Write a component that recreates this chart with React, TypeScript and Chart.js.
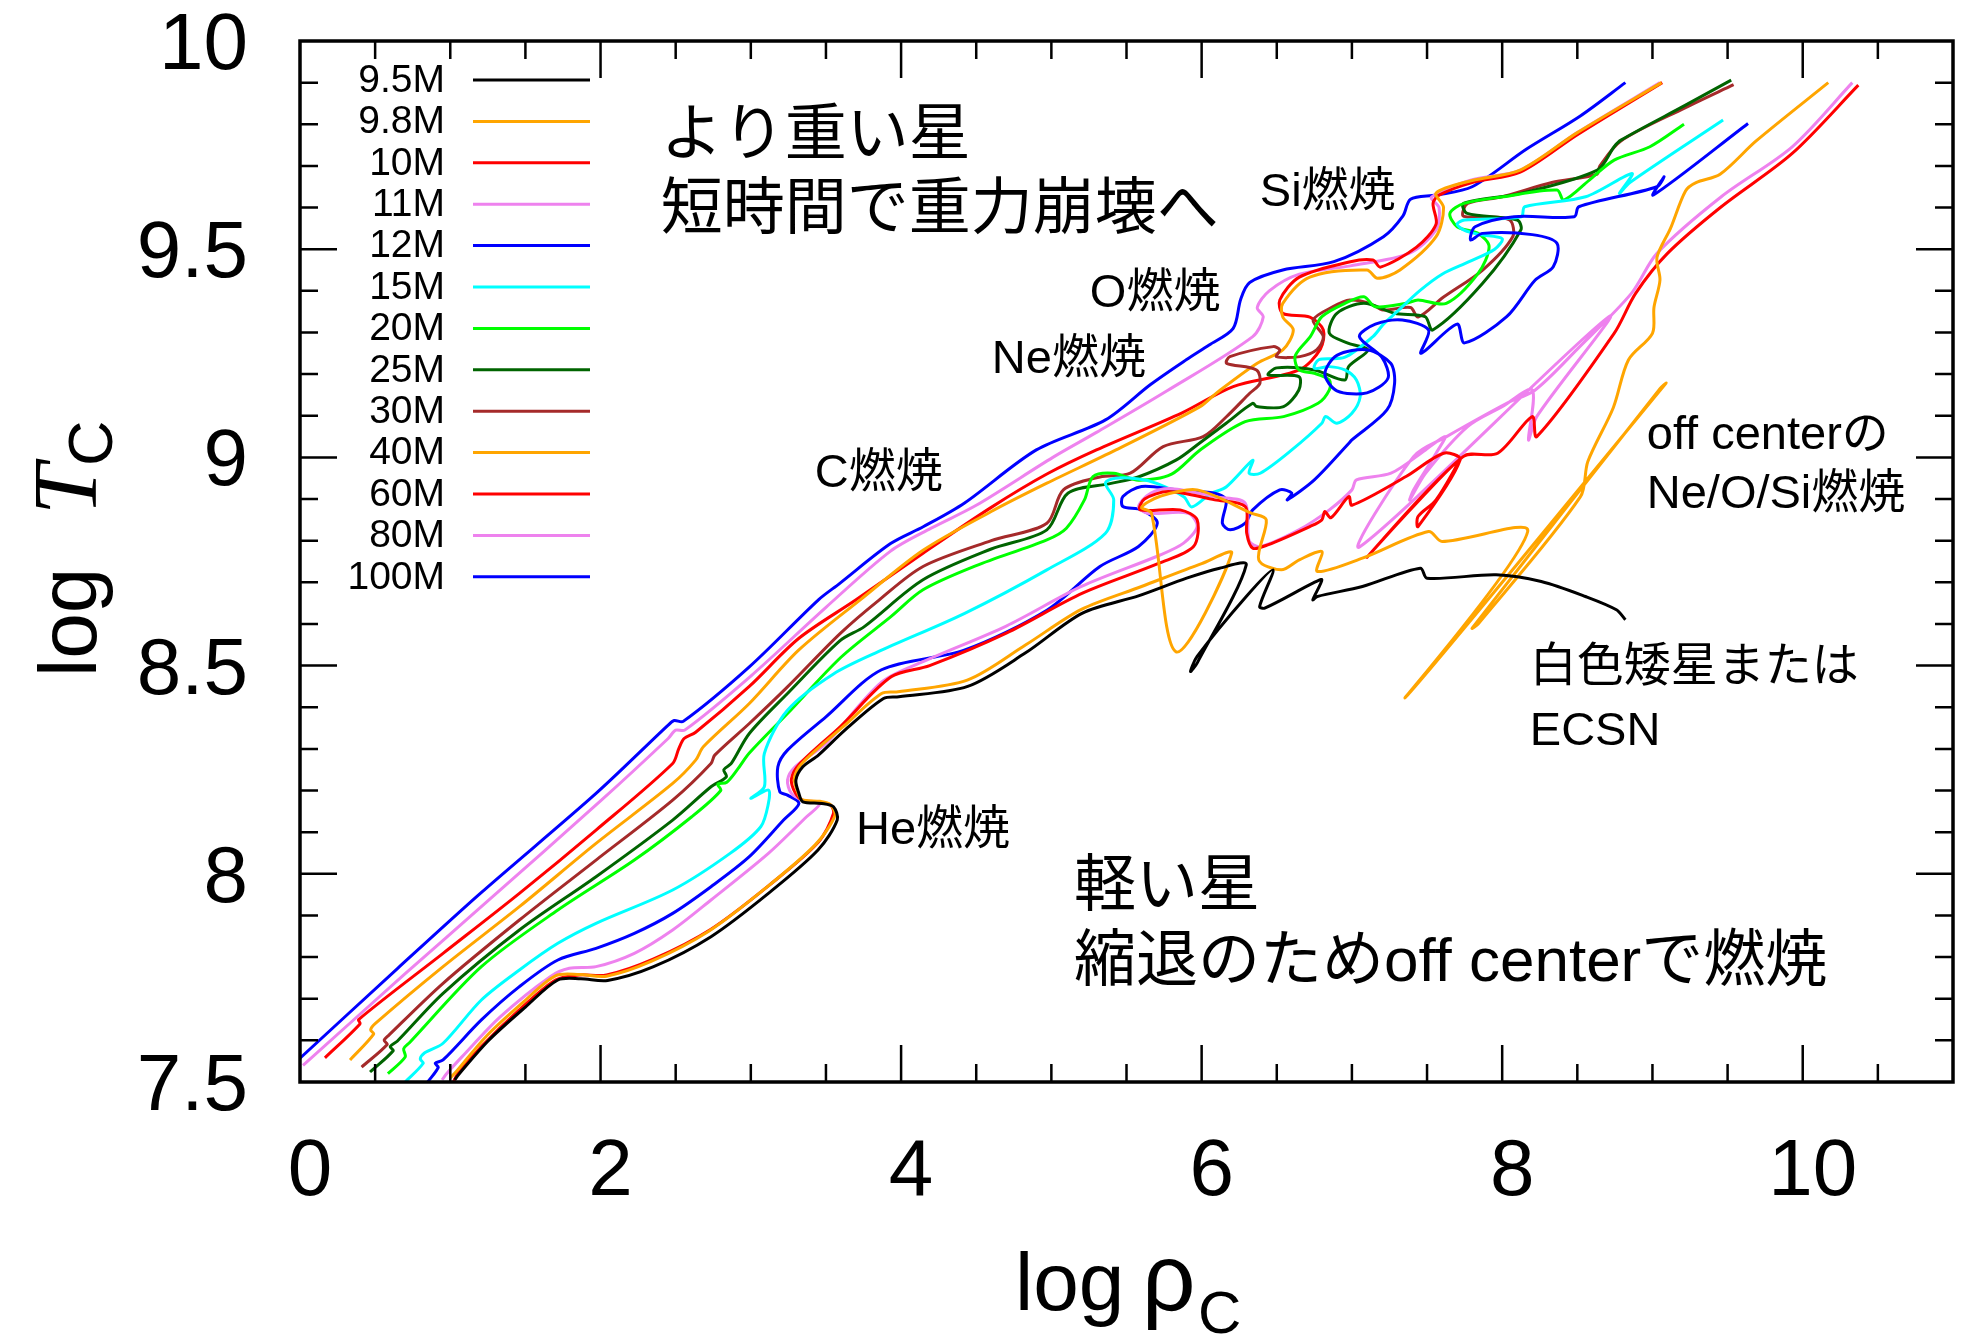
import React, { useEffect, useRef } from "react";
import { Chart, registerables } from "chart.js";

Chart.register(...registerables);

type Pt = [number, number];

// Central density / central temperature tracks (log rho_c, log T_c)
const m9_5: Pt[] = [
  [1.03, 7.505], [1.06, 7.52], [1.258, 7.601], [1.5, 7.68], [1.716, 7.745], [1.869, 7.748], [2.047, 7.744],
  [2.353, 7.777], [2.735, 7.849], [3.117, 7.953], [3.447, 8.057], [3.575, 8.129], [3.55, 8.161], [3.473, 8.169],
  [3.346, 8.173], [3.32, 8.193], [3.3, 8.225], [3.346, 8.257], [3.45, 8.285], [3.626, 8.345], [3.883, 8.421],
  [3.985, 8.425], [4.443, 8.45], [4.826, 8.53], [5.207, 8.626], [5.584, 8.668], [5.9, 8.71], [6.12, 8.734],
  [6.297, 8.742], [5.97, 8.506], [5.926, 8.486], [5.97, 8.522], [6.297, 8.666], [6.475, 8.73], [6.386, 8.642],
  [6.42, 8.638], [6.74, 8.698], [6.8, 8.706], [6.74, 8.658], [6.77, 8.666], [7.07, 8.69], [7.455, 8.734],
  [7.5, 8.71], [7.96, 8.718], [8.26, 8.702], [8.554, 8.666], [8.76, 8.634], [8.82, 8.61],
];

const m9_8: Pt[] = [
  [1.0, 7.51], [1.04, 7.525], [1.24, 7.61], [1.48, 7.69], [1.7, 7.755], [1.86, 7.758], [2.04, 7.754], [2.34, 7.79],
  [2.72, 7.862], [3.1, 7.966], [3.43, 8.07], [3.56, 8.14], [3.53, 8.166], [3.46, 8.174], [3.34, 8.178], [3.31, 8.198],
  [3.29, 8.23], [3.34, 8.265], [3.62, 8.355], [3.87, 8.433], [3.98, 8.437], [4.44, 8.465], [4.83, 8.55], [5.2, 8.635],
  [5.6, 8.69], [6.0, 8.745], [6.2, 8.77], [5.83, 8.533], [5.666, 8.866], [5.6, 8.88], [5.72, 8.906], [5.97, 8.922],
  [6.33, 8.866], [6.43, 8.85], [6.38, 8.754], [6.53, 8.73], [6.65, 8.754], [6.8, 8.774], [6.77, 8.726], [7.07, 8.758],
  [7.51, 8.822], [7.6, 8.798], [8.17, 8.822], [7.36, 8.425], [9.09, 9.178], [9.05, 9.165], [7.8, 8.59], [7.84, 8.6],
  [8.52, 8.905], [8.57, 8.99], [8.74, 9.12], [8.84, 9.234], [9.0, 9.298], [9.01, 9.36], [9.05, 9.426], [9.03, 9.48],
  [9.12, 9.55], [9.22, 9.64], [9.29, 9.66], [9.45, 9.68], [9.69, 9.76], [10.17, 9.9],
];

const m10: Pt[] = [
  [1.02, 7.5], [1.05, 7.52], [1.207, 7.585], [1.45, 7.67], [1.7, 7.745], [1.86, 7.757], [2.04, 7.757], [2.35, 7.795],
  [2.735, 7.867], [3.117, 7.971], [3.447, 8.075], [3.55, 8.145], [3.524, 8.167], [3.346, 8.176], [3.295, 8.195],
  [3.27, 8.227], [3.32, 8.262], [3.6, 8.355], [3.934, 8.473], [4.19, 8.5], [4.7, 8.578], [5.207, 8.674], [5.717, 8.746],
  [5.946, 8.786], [5.97, 8.85], [5.857, 8.874], [5.59, 8.874], [5.62, 8.9], [5.78, 8.918], [6.087, 8.898], [6.29, 8.882],
  [6.3, 8.818], [6.34, 8.782], [6.44, 8.79], [6.72, 8.834], [6.8, 8.85], [6.82, 8.87], [6.86, 8.855], [6.98, 8.906],
  [7.0, 8.885], [7.36, 8.954], [7.61, 9.01], [7.72, 8.994], [7.44, 8.834], [7.44, 8.858], [7.56, 8.898], [7.7, 8.99],
  [7.1, 8.76], [7.74, 9.002], [7.97, 9.01], [8.2, 9.098], [8.23, 9.05], [8.745, 9.298], [8.888, 9.394], [9.1, 9.49],
  [9.458, 9.602], [9.93, 9.73], [10.37, 9.894],
];

const m11: Pt[] = [
  [0.945, 7.505], [0.978, 7.521], [1.079, 7.561], [1.334, 7.657], [1.665, 7.753], [1.792, 7.773], [1.97, 7.777],
  [2.225, 7.809], [2.48, 7.865], [2.735, 7.937], [3.117, 8.049], [3.371, 8.137], [3.46, 8.169], [3.346, 8.177],
  [3.27, 8.193], [3.244, 8.225], [3.295, 8.257], [3.5, 8.313], [3.87, 8.46], [4.15, 8.51], [4.7, 8.595], [5.2, 8.69],
  [5.72, 8.765], [5.88, 8.794], [5.97, 8.834], [5.91, 8.866], [5.64, 8.866], [5.58, 8.882], [5.66, 8.914], [5.8, 8.925],
  [6.1, 8.905], [6.29, 8.89], [6.316, 8.8], [6.39, 8.786], [6.647, 8.826], [6.85, 8.874], [7.0, 8.922], [7.03, 8.946],
  [7.26, 8.962], [7.49, 9.018], [7.62, 9.05], [7.56, 9.01], [7.41, 8.922], [7.385, 8.898], [7.49, 8.962], [7.77, 9.074],
  [8.0, 9.122], [8.2, 9.162], [8.175, 9.042], [8.23, 9.098], [8.71, 9.338], [7.055, 8.786], [7.41, 9.002], [7.63, 9.05],
  [8.03, 9.13], [8.22, 9.162], [8.5, 9.26], [8.86, 9.394], [9.03, 9.49], [9.458, 9.626], [9.93, 9.746], [10.33, 9.9],
];

const m12: Pt[] = [
  [0.85, 7.5], [0.92, 7.535], [0.9, 7.545], [0.952, 7.553], [1.207, 7.649], [1.46, 7.729], [1.716, 7.793], [1.97, 7.821],
  [2.225, 7.857], [2.48, 7.905], [2.735, 7.969], [2.99, 8.041], [3.218, 8.129], [3.32, 8.169], [3.244, 8.189],
  [3.193, 8.197], [3.18, 8.257], [3.244, 8.297], [3.5, 8.377], [3.87, 8.49], [4.42, 8.537], [4.97, 8.633],
  [5.323, 8.738], [5.58, 8.786], [5.705, 8.842], [5.6, 8.874], [5.476, 8.882], [5.476, 8.906], [5.6, 8.93],
  [5.832, 8.922], [6.087, 8.914], [6.163, 8.898], [6.138, 8.842], [6.19, 8.826], [6.29, 8.842], [6.34, 8.874],
  [6.52, 8.922], [6.6, 8.914], [6.57, 8.898], [6.75, 8.946], [6.98, 9.034], [7.0, 9.042], [7.233, 9.114],
  [7.284, 9.178], [7.258, 9.226], [7.106, 9.258], [6.9, 9.245], [6.82, 9.2], [6.9, 9.16], [7.1, 9.155], [7.24, 9.19],
  [7.2, 9.24], [7.05, 9.29], [7.156, 9.32], [7.335, 9.33], [7.51, 9.306], [7.46, 9.25], [7.7, 9.32], [7.75, 9.275],
  [8.03, 9.338], [8.22, 9.426], [8.34, 9.458], [8.365, 9.514], [8.2, 9.535], [7.87, 9.538], [7.79, 9.522],
  [7.82, 9.554], [8.08, 9.578], [8.48, 9.578], [8.51, 9.602], [9.03, 9.65], [9.077, 9.674], [9.006, 9.63],
  [9.636, 9.802],
];

const m15: Pt[] = [
  [0.7, 7.5], [0.82, 7.545], [0.8, 7.555], [0.83, 7.57], [0.952, 7.593], [1.207, 7.697], [1.46, 7.769], [1.716, 7.833],
  [1.97, 7.881], [2.48, 7.961], [2.862, 8.049], [3.066, 8.113], [3.117, 8.169], [3.117, 8.201], [3.0, 8.181],
  [3.09, 8.209], [3.09, 8.289], [3.244, 8.393], [3.55, 8.48], [3.87, 8.537], [4.42, 8.625], [4.97, 8.73],
  [5.36, 8.818], [5.415, 8.898], [5.36, 8.938], [5.425, 8.95], [5.58, 8.948], [5.705, 8.937], [5.883, 8.905],
  [5.934, 8.881], [6.06, 8.913], [6.163, 8.929], [6.34, 8.993], [6.316, 8.962], [6.39, 8.962], [6.6, 9.018],
  [6.8, 9.082], [6.825, 9.098], [6.9, 9.082], [7.0, 9.106], [7.055, 9.146], [7.03, 9.186], [6.953, 9.21],
  [6.85, 9.218], [6.75, 9.214], [6.78, 9.235], [6.95, 9.24], [7.14, 9.29], [7.21, 9.32], [7.3, 9.35], [7.45, 9.4],
  [7.6, 9.44], [7.78, 9.47], [7.95, 9.5], [8.0, 9.525], [7.85, 9.535], [7.75, 9.545], [7.7, 9.56], [7.75, 9.57],
  [8.127, 9.578], [8.15, 9.602], [8.555, 9.626], [8.864, 9.682], [8.78, 9.634], [8.85, 9.66], [9.47, 9.81],
];

const m20: Pt[] = [
  [0.585, 7.52], [0.7, 7.56], [0.69, 7.58], [0.73, 7.595], [1.207, 7.777], [1.716, 7.913], [2.225, 8.033],
  [2.607, 8.137], [2.8, 8.2], [2.78, 8.215], [2.84, 8.22], [2.91, 8.25], [2.99, 8.29], [3.244, 8.385], [3.6, 8.52],
  [3.93, 8.617], [4.146, 8.682], [4.5, 8.74], [4.97, 8.802], [5.1, 8.83], [5.22, 8.898], [5.277, 8.954], [5.415, 8.962],
  [5.58, 8.945], [5.8, 8.96], [5.99, 9.018], [6.29, 9.086], [6.545, 9.098], [6.775, 9.13], [6.85, 9.162], [6.85, 9.186],
  [6.75, 9.202], [6.647, 9.21], [6.62, 9.24], [6.647, 9.258], [6.723, 9.29], [6.8, 9.338], [6.953, 9.37], [7.08, 9.386],
  [7.156, 9.362], [7.36, 9.37], [7.44, 9.378], [7.628, 9.37], [7.84, 9.442], [7.913, 9.506], [7.84, 9.538],
  [7.7, 9.554], [7.652, 9.586], [7.747, 9.61], [8.008, 9.626], [8.365, 9.642], [8.41, 9.618], [8.58, 9.666],
  [8.745, 9.714], [8.983, 9.746], [9.21, 9.8],
];

const m25: Pt[] = [
  [0.466, 7.524], [0.62, 7.575], [0.6, 7.585], [0.647, 7.598], [0.952, 7.713], [1.46, 7.865], [1.97, 7.993],
  [2.48, 8.129], [2.735, 8.209], [2.837, 8.233], [2.82, 8.25], [2.87, 8.265], [2.99, 8.337], [3.244, 8.433],
  [3.594, 8.56], [3.753, 8.593], [4.146, 8.706], [4.6, 8.78], [4.97, 8.826], [5.11, 8.914], [5.39, 8.937],
  [5.578, 8.953], [5.832, 8.994], [5.985, 9.034], [6.163, 9.082], [6.34, 9.13], [6.367, 9.122], [6.545, 9.122],
  [6.647, 9.162], [6.647, 9.194], [6.443, 9.198], [6.5, 9.215], [6.75, 9.21], [6.953, 9.186], [6.978, 9.218],
  [7.106, 9.258], [6.978, 9.274], [6.85, 9.298], [6.9, 9.346], [7.08, 9.37], [7.284, 9.346], [7.487, 9.338],
  [7.538, 9.306], [7.87, 9.418], [8.124, 9.546], [8.1, 9.57], [7.767, 9.586], [7.742, 9.61], [8.124, 9.634],
  [8.633, 9.69], [8.745, 9.746], [8.79, 9.762], [9.22, 9.846], [9.524, 9.906],
];

const m30: Pt[] = [
  [0.41, 7.536], [0.58, 7.59], [0.56, 7.6], [0.59, 7.612], [0.952, 7.737], [1.46, 7.889], [1.97, 8.033], [2.48, 8.177],
  [2.735, 8.265], [2.76, 8.285], [2.99, 8.361], [3.244, 8.449], [3.594, 8.577], [3.855, 8.658], [4.146, 8.738],
  [4.6, 8.8], [4.97, 8.842], [5.08, 8.922], [5.323, 8.953], [5.525, 8.962], [5.744, 9.026], [6.01, 9.05],
  [6.163, 9.097], [6.32, 9.154], [6.388, 9.178], [6.365, 9.21], [6.166, 9.226], [6.188, 9.242], [6.476, 9.266],
  [6.52, 9.258], [6.498, 9.242], [6.654, 9.242], [6.765, 9.258], [6.81, 9.29], [6.742, 9.33], [6.875, 9.362],
  [6.986, 9.378], [7.12, 9.37], [7.208, 9.354], [7.39, 9.36], [7.44, 9.337], [7.61, 9.385], [7.87, 9.45],
  [8.07, 9.53], [8.05, 9.57], [7.87, 9.578], [7.74, 9.58], [7.77, 9.61], [8.0, 9.626], [8.33, 9.66], [8.63, 9.68],
  [8.65, 9.7], [8.79, 9.76], [9.22, 9.84], [9.54, 9.895],
];

const m40: Pt[] = [
  [0.333, 7.553], [0.49, 7.615], [0.47, 7.625], [0.5, 7.64], [0.952, 7.777], [1.46, 7.921], [1.97, 8.073],
  [2.48, 8.217], [2.633, 8.273], [2.684, 8.305], [2.99, 8.409], [3.318, 8.537], [3.728, 8.658], [4.146, 8.777],
  [4.6, 8.87], [4.97, 8.938], [5.43, 9.018], [5.99, 9.122], [6.1, 9.155], [6.37, 9.226], [6.54, 9.258], [6.61, 9.306],
  [6.54, 9.337], [6.54, 9.37], [6.72, 9.433], [7.1, 9.45], [7.17, 9.43], [7.32, 9.45], [7.56, 9.53], [7.61, 9.6],
  [7.56, 9.635], [7.8, 9.665], [8.12, 9.69], [8.5, 9.78], [9.06, 9.9],
];

const m60: Pt[] = [
  [0.166, 7.558], [0.4, 7.64], [0.39, 7.65], [0.952, 7.809], [1.46, 7.953], [1.97, 8.105], [2.48, 8.265],
  [2.52, 8.3], [2.556, 8.325], [2.633, 8.34], [2.99, 8.45], [3.318, 8.565], [3.7, 8.658], [4.146, 8.77], [4.6, 8.88],
  [4.97, 8.96], [5.3, 9.018], [5.87, 9.107], [6.21, 9.17], [6.65, 9.21], [6.79, 9.26], [6.81, 9.306], [6.72, 9.337],
  [6.54, 9.346], [6.52, 9.378], [6.65, 9.433], [6.99, 9.47], [7.14, 9.474], [7.19, 9.457], [7.43, 9.505],
  [7.56, 9.56], [7.54, 9.61], [7.58, 9.63], [7.8, 9.66], [8.12, 9.685], [8.5, 9.775], [9.065, 9.9],
];

const m80: Pt[] = [
  [0.02, 7.54], [0.7, 7.76], [1.25, 7.935], [2.0, 8.175], [2.45, 8.325], [2.5, 8.345], [2.56, 8.345], [3.0, 8.475],
  [3.5, 8.64], [3.93, 8.775], [4.2, 8.83], [4.5, 8.885], [5.01, 9.0], [5.3, 9.06], [5.77, 9.16], [6.34, 9.29],
  [6.41, 9.337], [6.37, 9.36], [6.45, 9.4], [6.65, 9.44], [6.99, 9.46], [7.38, 9.49], [7.56, 9.546], [7.58, 9.6],
  [7.53, 9.625], [7.79, 9.666], [8.12, 9.69], [8.5, 9.78], [9.05, 9.9],
];

const m100: Pt[] = [
  [0.0, 7.557], [0.65, 7.773], [1.2, 7.953], [1.97, 8.193], [2.45, 8.357], [2.49, 8.368], [2.55, 8.366],
  [2.99, 8.497], [3.45, 8.658], [3.59, 8.697], [3.93, 8.793], [4.15, 8.834], [4.42, 8.89], [4.9, 9.018],
  [5.36, 9.09], [5.66, 9.175], [5.9, 9.235], [6.05, 9.27], [6.21, 9.31], [6.26, 9.38], [6.32, 9.42], [6.54, 9.45],
  [6.88, 9.47], [7.21, 9.53], [7.34, 9.58], [7.39, 9.62], [7.56, 9.63], [7.8, 9.65], [8.16, 9.74], [8.52, 9.82],
  [8.82, 9.9],
];

const massLabels = ["9.5M", "9.8M", "10M", "11M", "12M", "15M", "20M", "25M", "30M", "40M", "60M", "80M", "100M"];
const trackColors = [
  "#000000", "#FFA500", "#FF0000", "#EE82EE", "#0000FF", "#00FFFF", "#00FF00",
  "#006400", "#A52A2A", "#FFA500", "#FF0000", "#EE82EE", "#0000FF",
];
const tracks = [m9_5, m9_8, m10, m11, m12, m15, m20, m25, m30, m40, m60, m80, m100];

const xTickLabels = [0, 2, 4, 6, 8, 10];
const yTickLabels = [7.5, 8, 8.5, 9, 9.5, 10];

// Text notes placed in data coordinates (left edge, vertical centre)
const notes: { text: string; x: number; y: number; size: number }[] = [
  { text: "より重い星", x: 2.4, y: 9.781, size: 62 },
  { text: "短時間で重力崩壊へ", x: 2.4, y: 9.601, size: 62 },
  { text: "Si燃焼", x: 6.387, y: 9.645, size: 47 },
  { text: "O燃焼", x: 5.256, y: 9.402, size: 47 },
  { text: "Ne燃焼", x: 4.604, y: 9.244, size: 47 },
  { text: "C燃焼", x: 3.426, y: 8.97, size: 47 },
  { text: "He燃焼", x: 3.7, y: 8.112, size: 47 },
  { text: "off centerの", x: 8.962, y: 9.061, size: 47 },
  { text: "Ne/O/Si燃焼", x: 8.962, y: 8.919, size: 47 },
  { text: "白色矮星または", x: 8.184, y: 8.504, size: 47 },
  { text: "ECSN", x: 8.184, y: 8.35, size: 47 },
  { text: "軽い星", x: 5.15, y: 7.976, size: 62 },
  { text: "縮退のためoff centerで燃焼", x: 5.15, y: 7.795, size: 62 },
];

const SANS = '"Liberation Sans", "Noto Sans CJK JP", sans-serif';

const decorations = {
  id: "decorations",
  afterDraw(chart: any) {
    const { ctx, chartArea: a } = chart;
    const xs = chart.scales.x;
    const ys = chart.scales.y;
    ctx.save();
    ctx.strokeStyle = "#000";
    ctx.fillStyle = "#000";

    // inward tick marks on all four sides
    ctx.lineWidth = 2.5;
    ctx.beginPath();
    for (let i = 1; i < 22; i++) {
      const px = xs.getPixelForValue(i * 0.5);
      const len = i % 4 === 0 ? 37 : 18;
      ctx.moveTo(px, a.bottom);
      ctx.lineTo(px, a.bottom - len);
      ctx.moveTo(px, a.top);
      ctx.lineTo(px, a.top + len);
    }
    for (let i = 1; i < 25; i++) {
      const py = ys.getPixelForValue(7.5 + i * 0.1);
      const len = i % 5 === 0 ? 37 : 18;
      ctx.moveTo(a.left, py);
      ctx.lineTo(a.left + len, py);
      ctx.moveTo(a.right, py);
      ctx.lineTo(a.right - len, py);
    }
    ctx.stroke();

    ctx.lineWidth = 3.5;
    ctx.strokeRect(a.left, a.top, a.right - a.left, a.bottom - a.top);

    // tick labels
    ctx.font = `80px ${SANS}`;
    ctx.textBaseline = "alphabetic";
    ctx.textAlign = "center";
    for (const v of xTickLabels) {
      ctx.fillText(String(v), xs.getPixelForValue(v) + 10, 1195);
    }
    ctx.textAlign = "right";
    for (const v of yTickLabels) {
      ctx.fillText(String(v), 248, ys.getPixelForValue(v) + 28);
    }

    // x axis title: log rho_C
    ctx.textAlign = "left";
    ctx.font = `82px ${SANS}`;
    ctx.fillText("log", 1015, 1310);
    ctx.font = `94px ${SANS}`;
    ctx.fillText("ρ", 1142, 1310);
    ctx.font = `60px ${SANS}`;
    ctx.fillText("C", 1198, 1333);

    // y axis title: log T_C (rotated)
    ctx.save();
    ctx.translate(96, 677);
    ctx.rotate(-Math.PI / 2);
    ctx.font = `82px ${SANS}`;
    ctx.fillText("log", 0, 0);
    ctx.font = `italic 92px "Liberation Serif", serif`;
    ctx.fillText("T", 162, 0);
    ctx.font = `63px ${SANS}`;
    ctx.fillText("C", 211, 16);
    ctx.restore();

    // legend
    ctx.font = `39px ${SANS}`;
    ctx.textAlign = "right";
    ctx.textBaseline = "middle";
    ctx.lineWidth = 3;
    for (let i = 0; i < massLabels.length; i++) {
      const y = 80 + i * 41.4;
      ctx.fillStyle = "#000";
      ctx.fillText(massLabels[i], 445, y + 1);
      ctx.strokeStyle = trackColors[i];
      ctx.beginPath();
      ctx.moveTo(473, y);
      ctx.lineTo(590, y);
      ctx.stroke();
    }

    // notes
    ctx.fillStyle = "#000";
    ctx.textAlign = "left";
    ctx.textBaseline = "alphabetic";
    for (const n of notes) {
      ctx.font = `${n.size}px ${SANS}`;
      ctx.fillText(n.text, xs.getPixelForValue(n.x), ys.getPixelForValue(n.y) + n.size * 0.36);
    }
    ctx.restore();
  },
};

export default function App() {
  const canvasRef = useRef<HTMLCanvasElement | null>(null);

  useEffect(() => {
    document.body.style.margin = "0";
    const canvas = canvasRef.current;
    if (!canvas) return;
    const chart = new Chart(canvas, {
      type: "scatter",
      data: {
        datasets: tracks.map((pts, i) => ({
          label: massLabels[i],
          data: pts.map(([x, y]) => ({ x, y })),
          showLine: true,
          borderColor: trackColors[i],
          backgroundColor: trackColors[i],
          borderWidth: 3,
          pointRadius: 0,
          tension: 0.3,
          fill: false,
        })),
      },
      options: {
        animation: false,
        responsive: false,
        devicePixelRatio: 1,
        layout: { padding: { left: 300, right: 13, top: 41, bottom: 255 } },
        plugins: { legend: { display: false }, tooltip: { enabled: false } },
        scales: {
          x: { type: "linear", min: 0, max: 11, display: false },
          y: { type: "linear", min: 7.5, max: 10, display: false },
        },
      },
      plugins: [decorations],
    });
    return () => chart.destroy();
  }, []);

  return (
    <div style={{ width: 1966, height: 1337, background: "#fff" }}>
      <canvas ref={canvasRef} width={1966} height={1337} style={{ display: "block" }} />
    </div>
  );
}
